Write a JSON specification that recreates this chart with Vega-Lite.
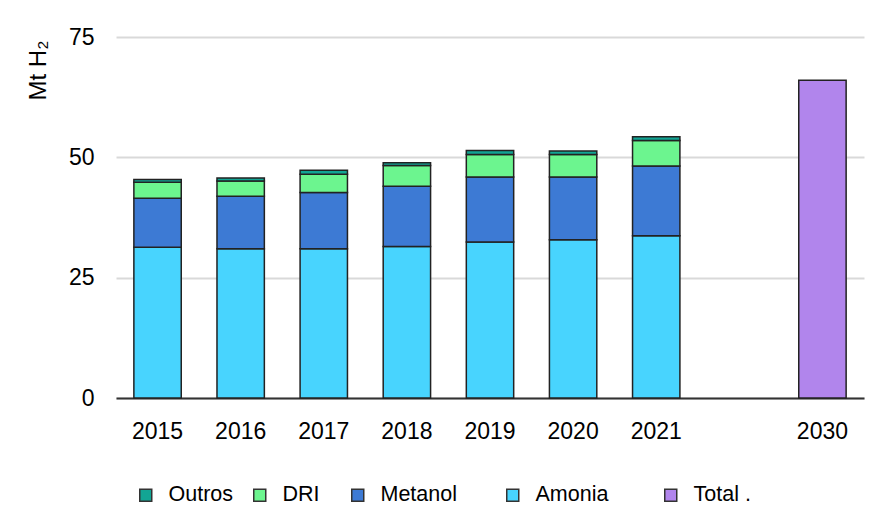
{
  "$schema": "https://vega.github.io/schema/vega-lite/v6.json",
  "width": 748,
  "height": 361,
  "autosize": {"type": "none"},
  "padding": {"left": 116, "top": 37, "right": 17, "bottom": 132},
  "background": "white",
  "config": {
    "view": {"stroke": null},
    "font": "Liberation Sans",
    "axis": {"labelFont": "Liberation Sans", "titleFont": "Liberation Sans", "labelColor": "#000", "titleColor": "#000"},
    "legend": {"labelFont": "Liberation Sans", "labelColor": "#000"}
  },
  "data": {
    "values": [
      {"ano": "2015", "tipo": "Amonia", "valor": 31.3},
      {"ano": "2015", "tipo": "Metanol", "valor": 10.2},
      {"ano": "2015", "tipo": "DRI", "valor": 3.3},
      {"ano": "2015", "tipo": "Outros", "valor": 0.6},
      {"ano": "2016", "tipo": "Amonia", "valor": 31.0},
      {"ano": "2016", "tipo": "Metanol", "valor": 10.9},
      {"ano": "2016", "tipo": "DRI", "valor": 3.2},
      {"ano": "2016", "tipo": "Outros", "valor": 0.6},
      {"ano": "2017", "tipo": "Amonia", "valor": 31.0},
      {"ano": "2017", "tipo": "Metanol", "valor": 11.7},
      {"ano": "2017", "tipo": "DRI", "valor": 3.8},
      {"ano": "2017", "tipo": "Outros", "valor": 0.8},
      {"ano": "2018", "tipo": "Amonia", "valor": 31.5},
      {"ano": "2018", "tipo": "Metanol", "valor": 12.5},
      {"ano": "2018", "tipo": "DRI", "valor": 4.3},
      {"ano": "2018", "tipo": "Outros", "valor": 0.6},
      {"ano": "2019", "tipo": "Amonia", "valor": 32.4},
      {"ano": "2019", "tipo": "Metanol", "valor": 13.5},
      {"ano": "2019", "tipo": "DRI", "valor": 4.7},
      {"ano": "2019", "tipo": "Outros", "valor": 0.8},
      {"ano": "2020", "tipo": "Amonia", "valor": 32.9},
      {"ano": "2020", "tipo": "Metanol", "valor": 13.0},
      {"ano": "2020", "tipo": "DRI", "valor": 4.7},
      {"ano": "2020", "tipo": "Outros", "valor": 0.7},
      {"ano": "2021", "tipo": "Amonia", "valor": 33.7},
      {"ano": "2021", "tipo": "Metanol", "valor": 14.5},
      {"ano": "2021", "tipo": "DRI", "valor": 5.3},
      {"ano": "2021", "tipo": "Outros", "valor": 0.8},
      {"ano": "2030", "tipo": "Total .", "valor": 66.0}
    ]
  },
  "mark": {"type": "bar", "stroke": "#222222", "strokeWidth": 1.5},
  "encoding": {
    "x": {
      "field": "ano",
      "type": "nominal",
      "scale": {"domain": ["2015", "2016", "2017", "2018", "2019", "2020", "2021", " ", "2030"], "paddingInner": 0.43, "paddingOuter": 0.215},
      "axis": {
        "title": null,
        "labelAngle": 0,
        "labelFontSize": 23,
        "labelPadding": 22,
        "ticks": false,
        "domain": true,
        "domainColor": "#333333",
        "domainWidth": 2
      }
    },
    "y": {
      "field": "valor",
      "type": "quantitative",
      "stack": "zero",
      "scale": {"domain": [0, 75], "nice": false},
      "axis": {
        "values": [0, 25, 50, 75],
        "title": "Mt H₂",
        "titleFontSize": 24,
        "titleFontWeight": "normal",
        "titleAngle": -90,
        "titleAlign": "right",
        "titleBaseline": "middle",
        "titleX": -78,
        "titleY": 3,
        "labelFontSize": 23,
        "labelPadding": 22,
        "ticks": false,
        "domain": false,
        "grid": true,
        "gridColor": "#d9d9d9",
        "gridWidth": 2
      }
    },
    "color": {
      "field": "tipo",
      "type": "nominal",
      "scale": {
        "domain": ["Outros", "DRI", "Metanol", "Amonia", "Total ."],
        "range": ["#12a594", "#6cf58f", "#3d7ad4", "#48d4fe", "#b185ec"]
      },
      "legend": {
        "title": null,
        "orient": "none",
        "direction": "horizontal",
        "columns": 5,
        "legendX": 19,
        "legendY": 447,
        "padding": 0,
        "symbolType": "square",
        "symbolSize": 144,
        "symbolStrokeColor": "#333333",
        "symbolStrokeWidth": 1.5,
        "symbolOpacity": 1,
        "labelFontSize": 21.5,
        "labelOffset": 12,
        "columnPadding": 15,
        "labelLimit": 300,
        "labelExpr": "datum.label == 'DRI' ? 'DRI\u00a0\u00a0\u200b' : datum.label == 'Metanol' ? 'Metanol\u00a0\u00a0\u00a0\u00a0\u00a0\u200b' : datum.label == 'Amonia' ? 'Amonia\u00a0\u00a0\u00a0\u00a0\u00a0\u00a0\u200b' : datum.label"
      }
    },
    "order": {"field": "valor", "sort": "descending"}
  }
}
